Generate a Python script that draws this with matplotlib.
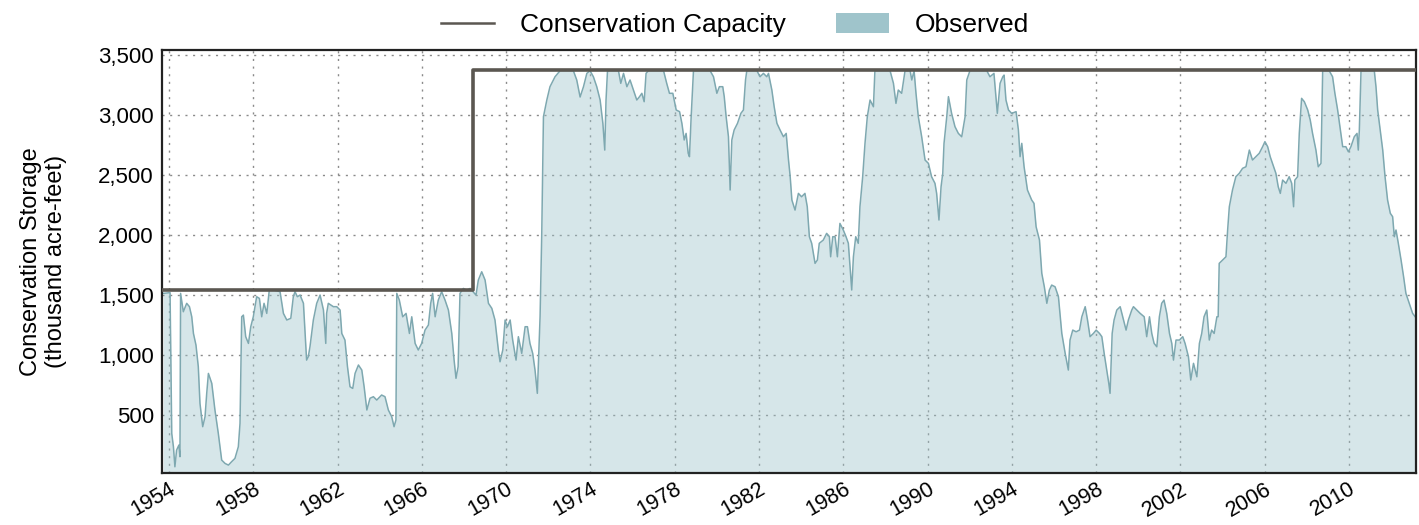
import numpy as np
import matplotlib.pyplot as plt
from matplotlib.patches import Patch
from matplotlib.lines import Line2D
from matplotlib.ticker import FuncFormatter

plt.rcParams['font.family'] = ['Liberation Sans', 'DejaVu Sans']

# conservation capacity (thousand acre-feet), step changes
cap_years = [1953.67, 1968.45, 2013.2]
cap_values = [1545, 3372, 3372]

# observed conservation storage
obs_years = [
    1953.73, 1954.05, 1954.13, 1954.21, 1954.28, 1954.36, 1954.47, 1954.52, 1954.55, 1954.68,
    1954.84, 1954.97, 1955.08, 1955.16, 1955.28, 1955.39, 1955.47, 1955.60, 1955.71, 1955.79,
    1955.87, 1956.03, 1956.18, 1956.34, 1956.50, 1956.66, 1956.82, 1956.97, 1957.13, 1957.29,
    1957.37, 1957.45, 1957.53, 1957.64, 1957.77, 1957.88, 1958.00, 1958.16, 1958.29, 1958.40,
    1958.51, 1958.64, 1958.76, 1958.95, 1959.27, 1959.43, 1959.59, 1959.78, 1959.90, 1959.98,
    1960.09, 1960.22, 1960.38, 1960.53, 1960.61, 1960.69, 1960.85, 1961.01, 1961.17, 1961.33,
    1961.44, 1961.48, 1961.56, 1961.80, 1961.96, 1962.12, 1962.20, 1962.35, 1962.47, 1962.59,
    1962.72, 1962.83, 1962.99, 1963.15, 1963.26, 1963.39, 1963.54,
    1963.70, 1963.86, 1964.09, 1964.25, 1964.41, 1964.57, 1964.68, 1964.77, 1964.81, 1964.93,
    1965.09, 1965.25, 1965.41, 1965.52, 1965.68, 1965.83, 1965.99, 1966.15, 1966.31, 1966.42,
    1966.51, 1966.63, 1966.78, 1966.94, 1967.10, 1967.26, 1967.42, 1967.53, 1967.62, 1967.72,
    1967.81, 1967.97, 1968.13, 1968.29, 1968.57, 1968.68, 1968.84, 1969.00, 1969.16, 1969.32,
    1969.47, 1969.63, 1969.71, 1969.84, 1969.95, 1970.06, 1970.19, 1970.31, 1970.47, 1970.58,
    1970.74, 1970.90, 1971.01, 1971.13, 1971.26, 1971.37, 1971.48, 1971.61, 1971.69, 1971.77,
    1971.93, 1972.08, 1972.32, 1972.56, 1972.88, 1973.19, 1973.35, 1973.51,
    1973.67, 1973.83, 1973.98, 1974.14, 1974.30, 1974.46, 1974.59, 1974.68, 1974.74, 1974.81,
    1975.09, 1975.33, 1975.44, 1975.57, 1975.73, 1975.88, 1976.04, 1976.20, 1976.33, 1976.44,
    1976.55, 1976.64, 1976.75, 1977.47, 1977.62, 1977.75, 1977.91, 1978.07, 1978.23, 1978.34,
    1978.45, 1978.54, 1978.64, 1978.70, 1978.78, 1978.89, 1979.68, 1979.84, 1980.00, 1980.12,
    1980.28, 1980.35, 1980.44, 1980.55, 1980.63, 1980.71, 1980.82, 1980.98, 1981.14, 1981.26,
    1981.36, 1981.42, 1981.90, 1982.05, 1982.21, 1982.37, 1982.45, 1982.61, 1982.72, 1982.85,
    1983.00, 1983.16, 1983.29, 1983.40, 1983.48, 1983.56,
    1983.71, 1983.87, 1984.02, 1984.18, 1984.29, 1984.39, 1984.50, 1984.66, 1984.77, 1984.86,
    1985.05, 1985.21, 1985.34, 1985.40, 1985.50, 1985.61, 1985.72, 1985.84, 1986.00, 1986.13,
    1986.24, 1986.32, 1986.40, 1986.48, 1986.59, 1986.71, 1986.79, 1986.92, 1987.03, 1987.14,
    1987.27, 1987.43, 1987.50, 1988.22, 1988.38, 1988.50, 1988.61, 1988.77, 1988.93, 1989.17,
    1989.25, 1989.36, 1989.45, 1989.56, 1989.72, 1989.88, 1990.04, 1990.19, 1990.35, 1990.43,
    1990.54, 1990.64, 1990.72, 1990.78, 1990.91, 1990.99, 1991.14, 1991.30, 1991.46, 1991.62,
    1991.78, 1991.86, 1992.01, 1992.81, 1992.96, 1993.15, 1993.31, 1993.44,
    1993.57, 1993.63, 1993.72, 1993.84, 1993.99, 1994.20, 1994.31, 1994.39, 1994.47, 1994.58,
    1994.74, 1994.94, 1995.05, 1995.15, 1995.31, 1995.42, 1995.54, 1995.66, 1995.78, 1995.89,
    1996.05, 1996.21, 1996.37, 1996.53, 1996.68, 1996.76, 1996.89, 1997.05, 1997.21, 1997.32,
    1997.48, 1997.59, 1997.71, 1997.87, 1998.00, 1998.16, 1998.27, 1998.38, 1998.50, 1998.60,
    1998.66, 1998.76, 1998.85, 1998.98, 1999.14, 1999.26, 1999.42, 1999.53, 1999.69, 1999.77,
    1999.93, 2000.09, 2000.28, 2000.40, 2000.53, 2000.64, 2000.75, 2000.88, 2001.00, 2001.11,
    2001.22, 2001.35, 2001.48, 2001.59, 2001.67, 2001.79, 2001.95, 2002.11, 2002.22, 2002.38,
    2002.49, 2002.62, 2002.78, 2002.90, 2003.01, 2003.12, 2003.25,
    2003.37, 2003.48, 2003.60, 2003.73, 2003.79, 2003.84, 2004.00, 2004.16, 2004.24, 2004.32,
    2004.47, 2004.63, 2004.79, 2004.95, 2005.11, 2005.27, 2005.42, 2005.58, 2005.74, 2005.90,
    2006.01, 2006.14, 2006.26, 2006.42, 2006.53, 2006.64, 2006.74, 2006.85, 2007.01, 2007.16,
    2007.28, 2007.37, 2007.43, 2007.56, 2007.64, 2007.75, 2007.88, 2008.04, 2008.16, 2008.27,
    2008.43, 2008.54, 2008.67, 2008.75, 2009.06, 2009.22, 2009.33, 2009.46, 2009.59, 2009.70,
    2009.85, 2009.97, 2010.09, 2010.25, 2010.38, 2010.44, 2010.49, 2010.57, 2011.20, 2011.28,
    2011.36, 2011.48, 2011.60, 2011.71, 2011.83, 2011.96, 2012.07, 2012.15, 2012.23, 2012.34,
    2012.47, 2012.59, 2012.70, 2012.86, 2013.02, 2013.18,
]
obs_values = [
    1514, 1520, 347, 236, 69, 208, 250, 153, 1514, 1361,
    1431, 1403, 1319, 1180, 1083, 903, 597, 403, 486, 681,
    847, 764, 542, 347, 125, 97, 83, 111, 139, 236,
    431, 1319, 1333, 1153, 1097, 1236, 1319, 1486, 1472, 1319,
    1431, 1347, 1542, 1542, 1528, 1347, 1292, 1306, 1486, 1528,
    1486, 1500, 1431, 958, 986, 1069, 1292, 1431, 1500, 1375,
    1097, 1347, 1431, 1403, 1403, 1375, 1180, 1125, 903, 736,
    722, 847, 917, 875, 736, 542, 640,
    653, 625, 667, 653, 542, 486, 403, 458, 1514, 1458,
    1319, 1347, 1180, 1319, 1097, 1042, 1097, 1208, 1250, 1431,
    1514, 1319, 1458, 1528, 1458, 1375, 1180, 958, 806, 903,
    1514, 1555, 1540, 1555, 1500, 1625, 1694, 1625, 1431, 1389,
    1292, 1042, 944, 1042, 1292, 1236, 1292, 1125, 958, 1153,
    1014, 1236, 1236, 1097, 1014, 875, 681, 1319, 2014, 2986,
    3125, 3236, 3319, 3369, 3369, 3369, 3292, 3150,
    3236, 3347, 3369, 3319, 3236, 3125, 2931, 2708, 3125, 3369,
    3369, 3369, 3264, 3347, 3236, 3292, 3208, 3125, 3153, 3181,
    3111, 3347, 3369, 3369, 3264, 3181, 3181, 3042, 3028, 2931,
    2792, 2847, 2681, 2653, 2986, 3369, 3369, 3319, 3181, 3236,
    3236, 3153, 2986, 2819, 2375, 2792, 2875, 2931, 3014, 3042,
    3292, 3369, 3369, 3319, 3347, 3319, 3347, 3208, 3069, 2931,
    2875, 2819, 2847, 2625, 2486, 2292,
    2208, 2347, 2319, 2347, 2236, 1986, 1931, 1764, 1792, 1931,
    1958, 2014, 1986, 1819, 1986, 1986, 1819, 2097, 2042, 1986,
    1931, 1736, 1542, 1819, 1986, 1931, 2236, 2486, 2764, 2986,
    3125, 3069, 3369, 3369, 3264, 3097, 3208, 3181, 3369, 3369,
    3292, 3369, 3181, 2986, 2819, 2625, 2597, 2486, 2431, 2347,
    2125, 2403, 2514, 2764, 2986, 3153, 3014, 2903, 2847, 2819,
    2986, 3292, 3369, 3369, 3319, 3347, 3014, 3264,
    3319, 3333, 3125, 3042, 3014, 3028, 2875, 2653, 2764, 2569,
    2375, 2292, 2264, 2069, 1958, 1681, 1569, 1431, 1542, 1583,
    1569, 1486, 1180, 1014, 875, 1125, 1208, 1194, 1208, 1319,
    1403, 1292, 1153, 1180, 1208, 1180, 1153, 1014, 875, 764,
    681, 1180, 1292, 1375, 1403, 1319, 1208, 1292, 1375, 1403,
    1375, 1347, 1319, 1153, 1319, 1180, 1097, 1069, 1319, 1431,
    1458, 1347, 1180, 1097, 958, 1125, 1125, 1153, 1097, 986,
    792, 931, 819, 1097, 1180, 1319, 1375,
    1125, 1208, 1180, 1319, 1319, 1764, 1792, 1819, 2042, 2236,
    2375, 2486, 2514, 2556, 2569, 2708, 2625, 2653, 2681, 2736,
    2778, 2736, 2653, 2569, 2514, 2403, 2347, 2458, 2431, 2486,
    2431, 2236, 2458, 2486, 2847, 3139, 3111, 3042, 2958, 2847,
    2708, 2569, 2597, 3369, 3369, 3319, 3181, 3042, 2875, 2736,
    2736, 2694, 2736, 2819, 2847, 2708, 2875, 3369, 3369, 3236,
    3042, 2875, 2708, 2486, 2292, 2181, 2153, 1986, 2042, 1931,
    1792, 1653, 1514, 1431, 1347, 1310,
]

year_ticks = list(range(1954, 2011, 4))
storage_ticks = [500, 1000, 1500, 2000, 2500, 3000, 3500]

fill_color = '#9fc4cb'
edge_color = '#7ea8b0'
cap_color = '#5b5751'

fig = plt.figure(figsize=(14.19, 5.25), dpi=100)
ax = fig.add_axes([0.1142, 0.099, 0.8837, 0.8058])

ax.fill_between(obs_years, obs_values, 0, color=fill_color, alpha=0.42, lw=0, zorder=1)
ax.plot(obs_years, obs_values, color=edge_color, lw=1.1, zorder=2)
ax.plot(cap_years, cap_values, drawstyle='steps-post', color=cap_color, lw=2.6, zorder=3)

ax.set_xlim(1953.67, 2013.18)
ax.set_ylim(17, 3542)
ax.set_xticks(year_ticks)
ax.set_xticklabels([str(y) for y in year_ticks], rotation=30, ha='right', rotation_mode='anchor')
ax.set_yticks(storage_ticks)
ax.yaxis.set_major_formatter(FuncFormatter(lambda v, p: f'{int(v):,}'))
ax.tick_params(axis='both', length=0, labelsize=16, pad=6)
ax.tick_params(axis='x', labelsize=15.5, pad=4)
ax.grid(True, linestyle=(0, (1.5, 4)), color='#8a8a8a', lw=1.0, zorder=0)
ax.set_axisbelow(True)
for s in ax.spines.values():
    s.set_linewidth(1.6)
    s.set_color('#222222')

ax.set_ylabel('Conservation Storage\n(thousand acre-feet)', fontsize=17, labelpad=22)

handles = [Line2D([0], [0], color=cap_color, lw=1.8),
           Patch(facecolor=fill_color, edgecolor='none')]
fig.legend(handles, ['Conservation Capacity', 'Observed'], loc='upper center',
           bbox_to_anchor=(0.518, 1.02), ncol=2, frameon=False, fontsize=19,
           handlelength=2.0, handleheight=0.75, handletextpad=1.0, columnspacing=1.9)

fig.savefig('out.png', dpi=100)
